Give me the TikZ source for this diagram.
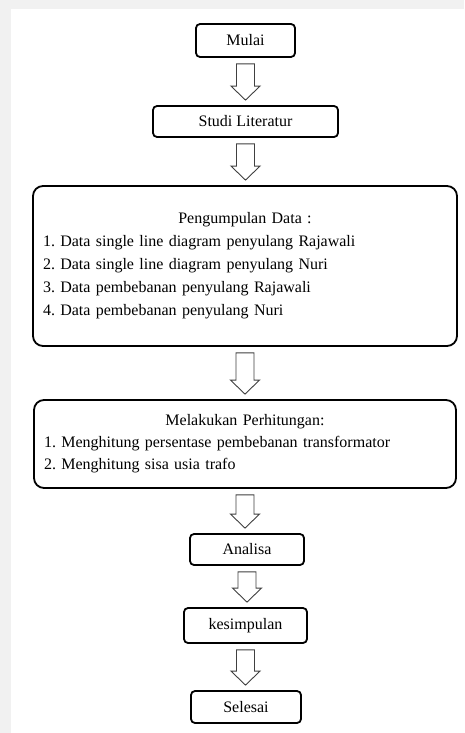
\documentclass[tikz,border=0pt]{standalone}
\usepackage{fontspec}
\setmainfont{Liberation Serif}
\usetikzlibrary{calc}
\definecolor{pagegrey}{HTML}{F1F1F1}
\frenchspacing
\tikzset{
  box/.style={draw=black, line width=1.8pt, rounded corners=4pt, inner sep=0pt,
    font=\fontsize{16}{23}\selectfont\frenchspacing, anchor=center},
  bigbox/.style={box, rounded corners=10pt, align=left, inner xsep=10pt},
  barrow/.style={draw=black!75, line width=0.9pt, fill=white, line join=miter},
}
\newcommand\blockarr[2]{%
  \draw[barrow] let \p1=(#1.south), \p2=(#2.north) in
    (\x1-9pt,\y1-6pt) -- (\x1+9pt,\y1-6pt) -- (\x1+9pt,\y2+19pt) --
    (\x1+14.5pt,\y2+19pt) -- (\x1,\y2+5pt) -- (\x1-14.5pt,\y2+19pt) --
    (\x1-9pt,\y2+19pt) -- cycle;}
\begin{document}
\begin{tikzpicture}[x=1pt,y=-1pt]
  \useasboundingbox (0,0) rectangle (464,733);
  \fill[pagegrey] (0,0) rectangle (464,733);
  \fill[white] (11,9) rectangle (464,733);

  \node[box, minimum width=99pt, minimum height=33pt] (mulai) at (245.5,40.5) {Mulai};
  \node[box, minimum width=185pt, minimum height=31pt] (studi) at (245.5,121.5) {Studi Literatur};
  \node[bigbox, text width=404pt, minimum height=160pt] (data) at (245,266)
    {{\centering Pengumpulan Data :\par}
     1. Data single line diagram penyulang Rajawali\\
     2. Data single line diagram penyulang Nuri\\
     3. Data pembebanan penyulang Rajawali\\
     4. Data pembebanan penyulang Nuri};
  \node[bigbox, text width=402pt, minimum height=88pt,
        font=\fontsize{16}{22}\selectfont\frenchspacing] (hitung) at (245,444)
    {{\centering Melakukan Perhitungan:\par}
     1. Menghitung persentase pembebanan transformator\\
     2. Menghitung sisa usia trafo};
  \node[box, minimum width=114pt, minimum height=31pt] (analisa) at (247,549.5) {Analisa};
  \node[box, minimum width=123pt, minimum height=35pt] (simpul) at (245.5,625.5) {kesimpulan};
  \node[box, minimum width=110pt, minimum height=32pt] (selesai) at (246,707) {Selesai};

  \blockarr{mulai}{studi}
  \blockarr{studi}{data}
  \blockarr{data}{hitung}
  \blockarr{hitung}{analisa}
  \blockarr{analisa}{simpul}
  \blockarr{simpul}{selesai}
\end{tikzpicture}
\end{document}
